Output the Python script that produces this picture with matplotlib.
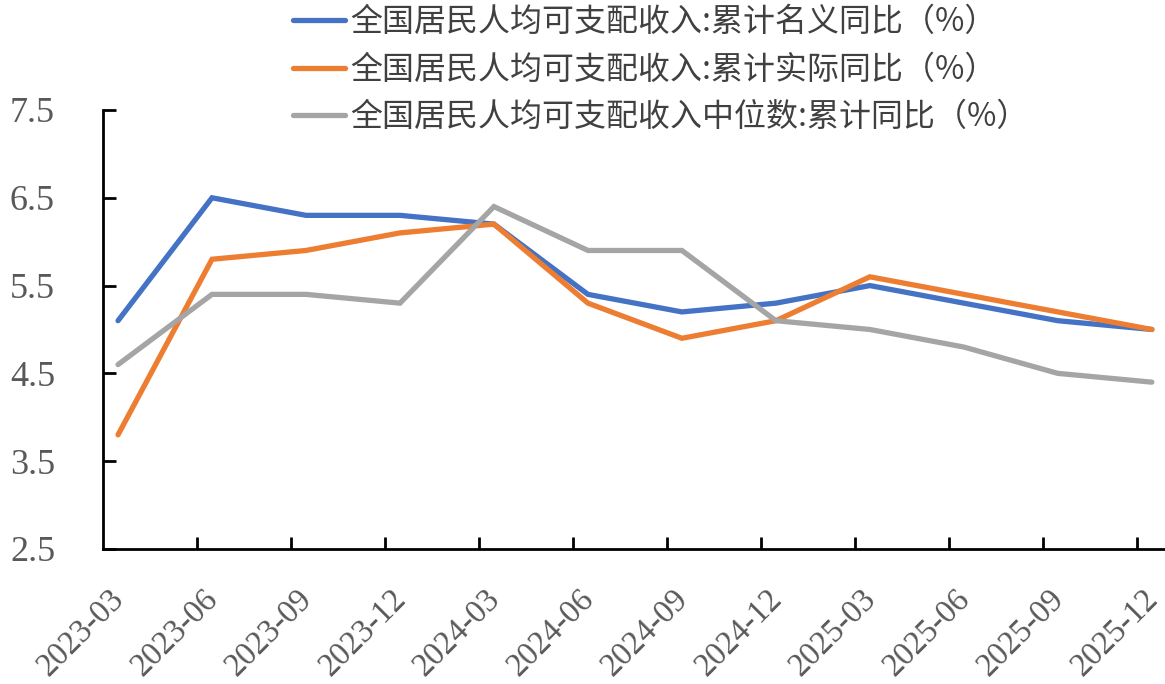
import numpy as np
import matplotlib
matplotlib.use("Agg")
import matplotlib.pyplot as plt
import matplotlib.transforms as mtransforms
from matplotlib.ticker import FixedLocator

plt.rcParams['font.family'] = ['Noto Sans CJK SC', 'DejaVu Sans']

# -------------------------------------------------------------------
# data
# -------------------------------------------------------------------
quarters = ["2023-03", "2023-06", "2023-09", "2023-12", "2024-03", "2024-06",
            "2024-09", "2024-12", "2025-03", "2025-06", "2025-09", "2025-12"]
nominal = [5.1, 6.5, 6.3, 6.3, 6.2, 5.4, 5.2, 5.3, 5.5, 5.3, 5.1, 5.0]
real = [3.8, 5.8, 5.9, 6.1, 6.2, 5.3, 4.9, 5.1, 5.6, 5.4, 5.2, 5.0]
median = [4.6, 5.4, 5.4, 5.3, 6.4, 5.9, 5.9, 5.1, 5.0, 4.8, 4.5, 4.4]
labels = ["全国居民人均可支配收入:累计名义同比（%）",
          "全国居民人均可支配收入:累计实际同比（%）",
          "全国居民人均可支配收入中位数:累计同比（%）"]
colors = ["#4472C4", "#ED7D31", "#A5A5A5"]
y_ticks = [2.5, 3.5, 4.5, 5.5, 6.5, 7.5]

# -------------------------------------------------------------------
# plot
# -------------------------------------------------------------------
fig = plt.figure(figsize=(11.65, 6.84), dpi=100)
ax = fig.add_axes([0.0884, 0.1974, 0.9116, 0.6418])

x = np.arange(len(quarters))
for series, lab, col in zip([nominal, real, median], labels, colors):
    ax.plot(x, series, color=col, linewidth=3.8, label=lab,
            solid_capstyle='round', solid_joinstyle='miter')

offset = 0.16
ax.set_xlim(-offset, 11.14)
ax.set_ylim(2.5, 7.5)

# y axis: inward ticks, labels pushed far left
ax.set_yticks(y_ticks)
ax.set_yticklabels([f"{v:.1f}" for v in y_ticks], family='Liberation Serif',
                   fontsize=26, color='#595959')
ax.tick_params(axis='y', direction='in', length=9, width=2, pad=67, colors='black',
               labelcolor='#595959')
for lbl in ax.get_yticklabels():
    lbl.set_horizontalalignment('left')

# x axis: labels at the points, tick marks slightly left of them
ax.set_xticks(x)
ax.set_xticklabels(quarters, rotation=45, ha='right', rotation_mode='anchor',
                   family='Liberation Serif', fontsize=23.5, color='#595959')
ax.tick_params(axis='x', which='major', length=0, pad=25)
ax.xaxis.set_minor_locator(FixedLocator(x[1:] - offset))
ax.tick_params(axis='x', which='minor', direction='in', length=9, width=2)
shift = mtransforms.ScaledTranslation(-9 / 100, 0, fig.dpi_scale_trans)
for lbl in ax.get_xticklabels():
    lbl.set_transform(lbl.get_transform() + shift)

for side in ['top', 'right']:
    ax.spines[side].set_visible(False)
for side in ['left', 'bottom']:
    ax.spines[side].set_linewidth(2)

ax.legend(loc='upper left', bbox_to_anchor=(0.179, 1.236), frameon=False,
          borderaxespad=0, borderpad=0,
          fontsize=23, handlelength=1.63, handletextpad=0.15, labelspacing=0.48,
          labelcolor='#404040')

fig.savefig("out.png", dpi=100)
